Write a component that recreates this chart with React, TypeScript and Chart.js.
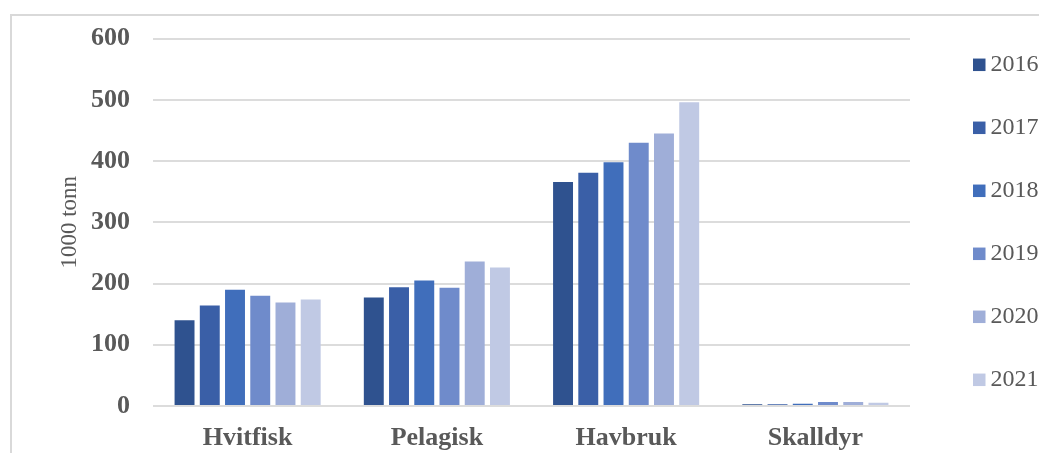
import React, { useEffect, useRef } from "react";
import { Chart, registerables } from "chart.js";

Chart.register(...registerables);

const categories = ["Hvitfisk", "Pelagisk", "Havbruk", "Skalldyr"];
const years = ["2016", "2017", "2018", "2019", "2020", "2021"];
const v2016 = [140, 177, 366, 3];
const v2017 = [164, 194, 381, 3];
const v2018 = [190, 205, 398, 3.5];
const v2019 = [180, 193, 430, 6.5];
const v2020 = [169, 236, 445, 6.5];
const v2021 = [174, 226, 496, 5.5];
const seriesValues = [v2016, v2017, v2018, v2019, v2020, v2021];
const colors = ["#2f528f", "#3a5fa7", "#406ebb", "#6f8bcb", "#9faed8", "#c0c9e4"];
const yTitle = "1000 tonn";

const FONT = '"Liberation Serif", "Times New Roman", serif';
const TEXT = "#595959";

const sideLegend = {
  id: "sideLegend",
  afterDraw(chart: any) {
    const { ctx, chartArea } = chart;
    const ds = chart.data.datasets;
    const n = ds.length;
    const step = 63;
    const x = chartArea.right + 63;
    const mid = (chartArea.top + chartArea.bottom) / 2;
    const start = mid - ((n - 1) / 2) * step;
    ctx.save();
    ctx.font = `24px ${FONT}`;
    ctx.textAlign = "left";
    ctx.textBaseline = "alphabetic";
    ds.forEach((d: any, i: number) => {
      const cy = start + i * step;
      ctx.fillStyle = d.backgroundColor;
      ctx.fillRect(x, cy - 6.25, 12.5, 12.5);
      ctx.fillStyle = TEXT;
      ctx.fillText(d.label, x + 17.5, cy + 6.5);
    });
    ctx.restore();
  },
};

export default function App() {
  const ref = useRef<HTMLCanvasElement | null>(null);
  useEffect(() => {
    if (!ref.current) return;
    const chart = new Chart(ref.current, {
      type: "bar",
      data: {
        labels: categories,
        datasets: years.map((y, i) => ({
          label: y,
          data: seriesValues[i],
          backgroundColor: colors[i],
          borderWidth: 0,
          categoryPercentage: 0.8,
          barPercentage: 0.79,
        })),
      },
      plugins: [sideLegend],
      options: {
        animation: false,
        responsive: false,
        maintainAspectRatio: false,
        layout: { padding: { left: 0, top: 37, right: 129, bottom: 0 } },
        plugins: {
          legend: { display: false },
          tooltip: { enabled: false },
        },
        scales: {
          x: {
            afterFit: (scale: any) => {
              scale.height = 47;
            },
            grid: { display: false, drawTicks: false },
            border: { display: false },
            ticks: {
              color: TEXT,
              padding: 17,
              font: { family: FONT, size: 26, weight: "bold" },
            },
          },
          y: {
            min: 0,
            max: 600,
            afterFit: (scale: any) => {
              scale.width = 153;
            },
            grid: { color: "#dcdcdc", lineWidth: 2, drawTicks: false },
            border: { display: false },
            ticks: {
              stepSize: 100,
              color: TEXT,
              padding: 23,
              font: { family: FONT, size: 26, weight: "bold" },
            },
            title: {
              display: true,
              text: yTitle,
              color: TEXT,
              padding: { top: 56, bottom: 0 },
              font: { family: FONT, size: 23 },
            },
          },
        },
      },
    });
    return () => chart.destroy();
  }, []);
  return (
    <div style={{ position: "fixed", left: 0, top: 0, width: 1039, height: 453, background: "#fff", overflow: "hidden" }}>
      <div
        style={{
          position: "absolute",
          left: 10,
          top: 14,
          width: 1100,
          height: 600,
          borderLeft: "2px solid #d9d9d9",
          borderTop: "2px solid #d9d9d9",
        }}
      />
      <canvas ref={ref} width={1039} height={453} style={{ position: "absolute", left: 0, top: 0 }} />
    </div>
  );
}
